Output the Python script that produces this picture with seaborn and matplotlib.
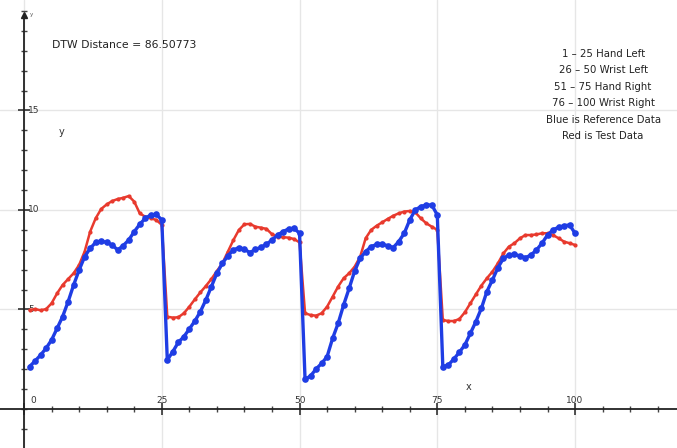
import matplotlib
matplotlib.use("Agg")
import matplotlib.pyplot as plt
import seaborn as sns
import pandas as pd
from matplotlib.ticker import MultipleLocator

# ---------------- data ----------------
x_values = list(range(1, 101))

reference_blue = [
    2.13, 2.41, 2.71, 3.05, 3.47, 4.05, 4.64, 5.39, 6.23, 6.98,
    7.65, 8.07, 8.37, 8.44, 8.37, 8.24, 7.99, 8.21, 8.49, 8.91,
    9.28, 9.58, 9.75, 9.78, 9.50,
    2.46, 2.88, 3.35, 3.63, 4.02, 4.42, 4.89, 5.48, 6.15, 6.82,
    7.32, 7.70, 7.99, 8.11, 8.02, 7.86, 8.02, 8.12, 8.28, 8.49,
    8.74, 8.91, 9.05, 9.08, 8.83,
    1.49, 1.66, 2.01, 2.29, 2.63, 3.55, 4.30, 5.23, 6.06, 6.93,
    7.57, 7.91, 8.16, 8.27, 8.27, 8.21, 8.11, 8.41, 8.83, 9.50,
    10.00, 10.17, 10.25, 10.25, 9.75,
    2.13, 2.21, 2.51, 2.85, 3.22, 3.80, 4.39, 5.06, 5.90, 6.48,
    7.10, 7.57, 7.74, 7.77, 7.69, 7.60, 7.74, 7.99, 8.33, 8.74,
    9.00, 9.13, 9.20, 9.25, 8.83,
]

test_red = [
    4.97, 5.02, 4.96, 5.02, 5.31, 5.81, 6.23, 6.53, 6.82, 7.24,
    7.91, 8.91, 9.58, 10.05, 10.28, 10.45, 10.55, 10.61, 10.70, 10.42,
    9.83, 9.66, 9.58, 9.50, 9.25,
    4.64, 4.59, 4.61, 4.81, 5.14, 5.51, 5.86, 6.18, 6.53, 6.93,
    7.32, 7.91, 8.49, 9.00, 9.28, 9.30, 9.16, 9.11, 9.05, 8.78,
    8.66, 8.63, 8.61, 8.54, 8.37,
    4.81, 4.72, 4.69, 4.81, 5.14, 5.64, 6.15, 6.57, 6.82, 7.15,
    7.65, 8.58, 9.00, 9.21, 9.38, 9.55, 9.71, 9.83, 9.92, 9.95,
    9.88, 9.58, 9.33, 9.16, 9.00,
    4.47, 4.42, 4.42, 4.52, 4.86, 5.31, 5.76, 6.20, 6.57, 6.90,
    7.32, 7.82, 8.16, 8.33, 8.58, 8.74, 8.74, 8.77, 8.83, 8.83,
    8.74, 8.58, 8.41, 8.33, 8.24,
]

xtick_values = [0, 25, 50, 75, 100]
ytick_values = [5, 10, 15]
distance_text = "DTW Distance = 86.50773"
info_lines = [
    "1 \u2013 25 Hand Left",
    "26 \u2013 50 Wrist Left",
    "51 \u2013 75 Hand Right",
    "76 \u2013 100 Wrist Right",
    "Blue is Reference Data",
    "Red is Test Data",
]

# ---------------- figure ----------------
sns.set_theme(style="white")
plt.rcParams["font.family"] = ["DejaVu Sans"]

fig = plt.figure(figsize=(6.77, 4.48), dpi=100)
ax = fig.add_axes([0, 0, 1, 1])
ax.set_xlim(-4.36, 118.5)
ax.set_ylim(-1.96, 20.55)

df_red = pd.DataFrame({"x": x_values, "y": test_red})
df_blue = pd.DataFrame({"x": x_values, "y": reference_blue})

red = "#e83a2e"
blue = "#1f3de4"

sns.lineplot(data=df_red, x="x", y="y", ax=ax, sort=False, color=red,
             linewidth=1.8, marker="o", markersize=3.0,
             markeredgecolor=red, markeredgewidth=0, zorder=3)
sns.lineplot(data=df_blue, x="x", y="y", ax=ax, sort=False, color=blue,
             linewidth=2.4, marker="o", markersize=4.8,
             markeredgecolor=blue, markeredgewidth=0, zorder=4)

# axes through the origin
for s in ["top", "right"]:
    ax.spines[s].set_visible(False)
ax.spines["left"].set_position(("data", 0))
ax.spines["bottom"].set_position(("data", 0))
for s in ["left", "bottom"]:
    ax.spines[s].set_color("#222222")
    ax.spines[s].set_linewidth(1.3)
    ax.spines[s].set_zorder(2.5)
ax.spines["left"].set_bounds(-1.96, 19.8)
ax.plot(0, 19.8, marker="^", color="#222222", markersize=5, clip_on=False, zorder=5)
ax.text(1.0, 19.8, "y", fontsize=4, color="#555555", va="center", ha="left")

ax.set_xticks(xtick_values)
ax.set_yticks(ytick_values)
ax.xaxis.set_minor_locator(MultipleLocator(5))
ax.yaxis.set_minor_locator(MultipleLocator(1))
ax.tick_params(which="major", direction="inout", length=8, width=1.1,
               color="#222222", labelbottom=False, labelleft=False,
               bottom=True, left=True)
ax.tick_params(which="minor", direction="inout", length=5, width=1.0,
               color="#444444", bottom=True, left=True)
ax.grid(True, which="major", color="#e6e6e6", linewidth=1.0)
ax.set_axisbelow(True)
ax.set_xlabel("")
ax.set_ylabel("")

for xv in xtick_values:
    ax.text(xv + (1.6 if xv == 0 else 0), 0.45, str(xv), ha="center",
            va="center", fontsize=6.5, color="#333333", zorder=1)
for yv in ytick_values:
    ax.text(0.7, yv, str(yv), ha="left", va="center", fontsize=6.5,
            color="#333333", zorder=1)

ax.text(6.9, 13.9, "y", fontsize=7, color="#333333", ha="center", va="center")
ax.text(80.6, 1.1, "x", fontsize=7, color="#333333", ha="center", va="center")

ax.text(5.1, 18.3, distance_text, fontsize=7.8, color="#222222",
        ha="left", va="center")
for i, line in enumerate(info_lines):
    ax.text(105.1, 17.85 - i * 0.83, line, fontsize=7.3, color="#222222",
            ha="center", va="center")

fig.savefig("out.png", dpi=100, facecolor="white")
